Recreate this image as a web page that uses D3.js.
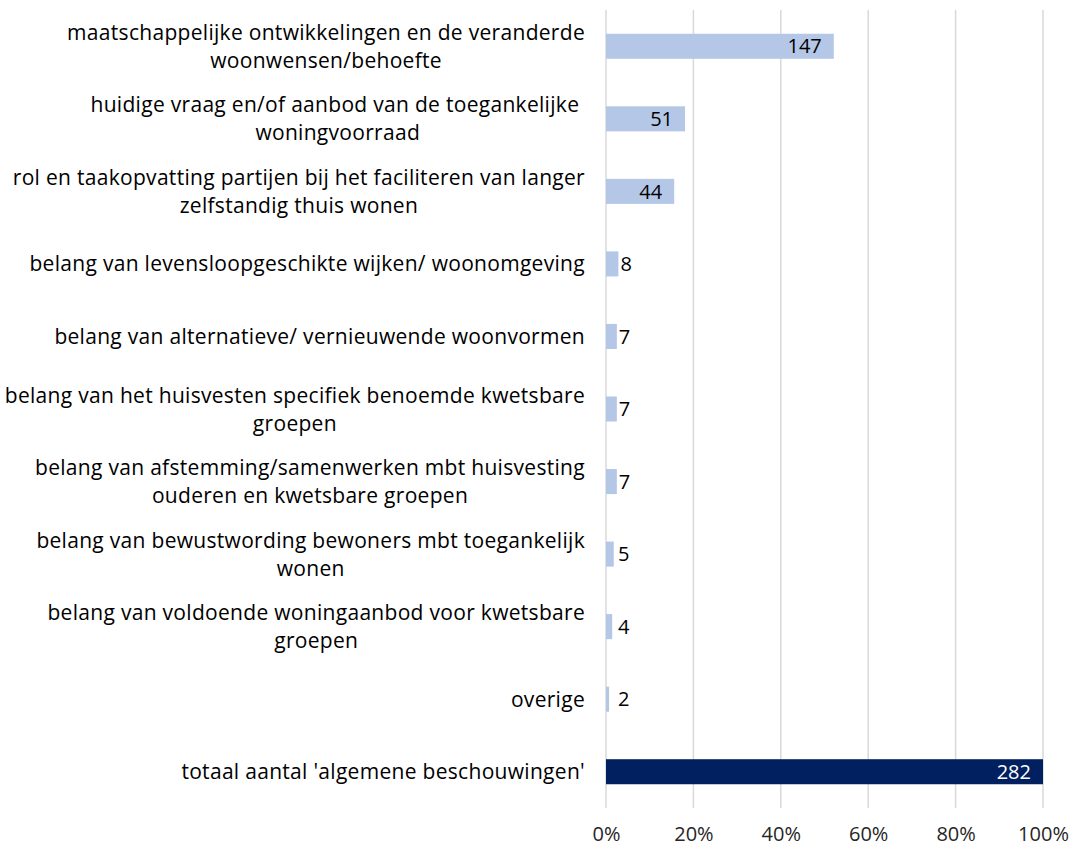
<!DOCTYPE html>
<html>
<head>
<meta charset="utf-8">
<script src="https://cdn.jsdelivr.net/npm/d3@7"></script>
<style>
    body { margin: 0; background: #fff; }
    text { font-family: "Open Sans", sans-serif; }
</style>
</head>
<body>
<div id="chart"></div>
<script>
// category labels, one array of lines per bar (as wrapped in the original)
const categories = [
    ['maatschappelijke ontwikkelingen en de veranderde', 'woonwensen/behoefte'],
    ['huidige vraag en/of aanbod van de toegankelijke ', 'woningvoorraad'],
    ['rol en taakopvatting partijen bij het faciliteren van langer', 'zelfstandig thuis wonen'],
    ['belang van levensloopgeschikte wijken/ woonomgeving'],
    ['belang van alternatieve/ vernieuwende woonvormen'],
    ['belang van het huisvesten specifiek benoemde kwetsbare', 'groepen'],
    ['belang van afstemming/samenwerken mbt huisvesting', 'ouderen en kwetsbare groepen'],
    ['belang van bewustwording bewoners mbt toegankelijk', 'wonen'],
    ['belang van voldoende woningaanbod voor kwetsbare', 'groepen'],
    ['overige'],
    ["totaal aantal 'algemene beschouwingen'"]
];

// counts per category (last one is the total)
const counts = [147, 51, 44, 8, 7, 7, 7, 5, 4, 2, 282];

const tickValues = [0, 0.2, 0.4, 0.6, 0.8, 1];

const total = counts[counts.length - 1];

const svgWidth = 1077;
const svgHeight = 850;
const fontSize = 20;

const margin = { top: 10, right: 34, bottom: 42, left: 606 };
const chartWidth = svgWidth - margin.left - margin.right;
const chartHeight = svgHeight - margin.top - margin.bottom;

const svg = d3.select('#chart').append('svg')
    .attr('width', svgWidth)
    .attr('height', svgHeight);

const chartGroup = svg.append('g')
    .attr('transform', `translate(${margin.left},${margin.top})`);

const xScale = d3.scaleLinear()
    .domain([0, 1])
    .range([0, chartWidth]);

const yScale = d3.scaleBand()
    .domain(d3.range(categories.length))
    .range([0, chartHeight])
    .paddingInner(0.655)
    .paddingOuter(0.3275);

// gridlines
chartGroup.append('g')
    .selectAll('line')
    .data(tickValues)
    .join('line')
    .attr('x1', d => xScale(d))
    .attr('x2', d => xScale(d))
    .attr('y1', 0)
    .attr('y2', chartHeight)
    .attr('stroke', '#d9d9d9')
    .attr('stroke-width', 1.5);

// x axis labels
const xAxis = d3.axisBottom(xScale)
    .tickValues(tickValues)
    .tickFormat(d3.format('.0%'))
    .tickSize(0)
    .tickPadding(19);

const xg = chartGroup.append('g')
    .attr('transform', `translate(0, ${chartHeight})`)
    .call(xAxis);
xg.select('.domain').remove();
xg.selectAll('text')
    .attr('font-size', fontSize)
    .attr('font-family', '"Open Sans", sans-serif')
    .attr('fill', '#262626');

// bars
const isTotal = i => i === counts.length - 1;

chartGroup.append('g')
    .selectAll('rect')
    .data(counts)
    .join('rect')
    .attr('x', xScale(0))
    .attr('y', (d, i) => yScale(i))
    .attr('width', d => xScale(d / total) - xScale(0))
    .attr('height', yScale.bandwidth())
    .attr('fill', (d, i) => isTotal(i) ? '#002060' : '#b4c7e7');

// value labels: inside end for long bars, outside for short ones
const inside = d => xScale(d / total) > 40;

chartGroup.append('g')
    .selectAll('text')
    .data(counts)
    .join('text')
    .attr('x', d => {
        const w = xScale(d / total);
        return inside(d) ? w - 12 : Math.max(w + 2, 12);
    })
    .attr('y', (d, i) => yScale(i) + yScale.bandwidth() / 2)
    .attr('dy', '0.36em')
    .attr('text-anchor', d => inside(d) ? 'end' : 'start')
    .attr('font-size', fontSize)
    .attr('fill', (d, i) => isTotal(i) ? '#fff' : '#000')
    .text(d => d);

// category labels, right aligned block with centred lines
const labelRight = -21;
const lineHeight = 28;
const labelGroup = chartGroup.append('g');

categories.forEach((lines, i) => {
    const cy = yScale(i) + yScale.bandwidth() / 2;
    const t = labelGroup.append('text')
        .attr('font-size', 21)
        .attr('letter-spacing', 0.3)
        .style('white-space', 'pre')
        .attr('fill', '#000');
    const spans = lines.map((line, j) => t.append('tspan')
        .attr('y', cy + (j - (lines.length - 1) / 2) * lineHeight)
        .attr('dy', '0.36em')
        .text(line));
    const maxW = d3.max(spans, s => s.node().getComputedTextLength());
    spans.forEach(s => s.attr('x', labelRight - maxW / 2));
    t.attr('text-anchor', 'middle');
});
</script>
</body>
</html>
